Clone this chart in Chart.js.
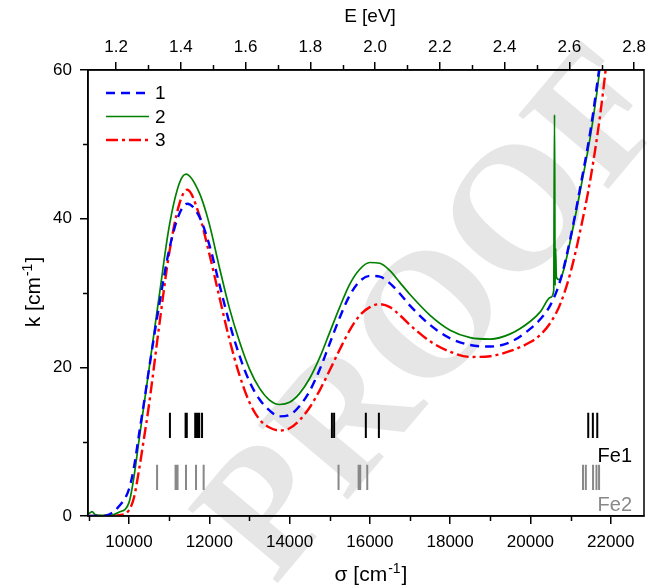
<!DOCTYPE html>
<html lang="en">
<head>
  <meta charset="UTF-8" />
  <title>k vs wavenumber</title>
  <script src="https://cdn.jsdelivr.net/npm/chart.js@4.4.1/dist/chart.umd.min.js"></script>
  <style>
    html, body { margin: 0; padding: 0; background: #fff; }
  </style>
</head>
<body>
  <canvas id="kChart" width="660" height="586"></canvas>

  <script>
    // wavenumber grid (cm-1) shared by curves 1 and 3
    const sigma = [9000, 9250, 9500, 9750, 10000, 10125, 10250, 10375, 10500, 10750, 11000, 11250, 11450,
      11750, 12000, 12250, 12500, 12750, 13000, 13250, 13500, 13750, 14000, 14250, 14500, 14750, 15000,
      15250, 15500, 15750, 16000, 16250, 16500, 16750, 17000, 17500, 18000, 18500, 19000, 19500, 20000,
      20250, 20500, 20750, 21000, 21250, 21500, 21750, 22000];
    const k1 = [0.0, 0.0, 0.2, 1.3, 3.6, 6.6, 11.0, 15.3, 19.8, 28.3, 35.8, 40.6, 42.0,
      40.3, 36.5, 31.2, 26.0, 21.6, 18.1, 15.7, 14.2, 13.4, 13.6, 14.8, 16.8, 19.7, 23.2,
      26.7, 29.7, 31.6, 32.3, 32.2, 31.3, 29.9, 28.3, 25.7, 23.9, 23.0, 22.8, 23.4, 25.2,
      26.5, 28.4, 31.8, 37.5, 44.5, 52.0, 61.5, 70.0];
    const k3 = [0.0, 0.0, 0.0, 0.1, 0.8, 2.5, 6.2, 10.5, 15.0, 25.5, 35.3, 41.9, 43.9,
      40.5, 35.3, 29.5, 23.8, 19.0, 15.3, 13.0, 11.9, 11.5, 11.8, 12.9, 14.6, 16.9, 19.6,
      22.4, 25.0, 27.0, 28.1, 28.5, 28.1, 27.0, 25.7, 23.5, 22.1, 21.4, 21.5, 22.2, 23.4,
      24.4, 26.0, 28.6, 32.8, 38.6, 45.5, 54.5, 66.0];
    // curve 2 has a narrow spike near 20600 cm-1, so it keeps its own grid
    const sigma2 = [9000, 9080, 9150, 9250, 9500, 9750, 10000, 10125, 10250, 10375, 10500, 10750, 11000,
      11250, 11420, 11750, 12000, 12250, 12500, 12750, 13000, 13250, 13500, 13750, 14000, 14250, 14500,
      14750, 15000, 15250, 15500, 15750, 16000, 16250, 16500, 16750, 17000, 17500, 18000, 18500, 19000,
      19500, 20000, 20250, 20500, 20580, 20600, 20615, 20628, 20645, 20710, 20800, 21000, 21250, 21500,
      21650, 21750, 22000];
    const k2 = [0.3, 0.6, 0.2, 0.1, 0.1, 0.5, 1.8, 5.3, 10.2, 15.0, 19.8, 29.5, 38.9,
      44.7, 46.0, 43.5, 39.3, 33.5, 28.0, 23.5, 19.8, 17.2, 15.6, 15.0, 15.3, 16.5, 18.5,
      21.3, 24.7, 28.1, 31.2, 33.2, 34.1, 34.0, 33.0, 31.4, 29.8, 27.0, 25.0, 24.0, 23.8,
      24.5, 26.2, 27.5, 29.4, 30.3, 54.0, 31.0, 36.0, 32.2, 31.8, 32.6, 37.2, 44.0, 51.3,
      56.8, 61.0, 70.0];

    // line positions of the two Fe sites (cm-1)
    const fe1Lines = [11020, 11410, 11440, 11650, 11700, 11750, 11820, 15055, 15110, 15900, 16225,
      21440, 21555, 21665];
    const fe2Lines = [10700, 11160, 11210, 11420, 11670, 11860, 15220, 15720, 15760, 15935,
      21310, 21380, 21560, 21645, 21710];
    const fe1Range = [10.5, 13.9];
    const fe2Range = [3.5, 6.9];

    // axis ticks
    const sigmaTicks = [10000, 12000, 14000, 16000, 18000, 20000, 22000];
    const sigmaMinor = [9000, 11000, 13000, 15000, 17000, 19000, 21000];
    const eTicks = [1.2, 1.4, 1.6, 1.8, 2.0, 2.2, 2.4, 2.6, 2.8];
    const eMinor = [1.3, 1.5, 1.7, 1.9, 2.1, 2.3, 2.5, 2.7];
    const kTicks = [0, 20, 40, 60];
    const kMinor = [10, 30, 50];

    const SIGMA_MIN = 8979, SIGMA_MAX = 22829;
    const EV_PER_CM = 1 / 8065.54;

    const FONT = '"Liberation Sans", Arial, sans-serif';

    function pts(xs, ys) { return xs.map((x, i) => ({ x: x, y: ys[i] })); }
    function marks(xs, r) {
      const out = [];
      xs.forEach(s => { out.push({ x: s, y: r[0] }, { x: s, y: r[1] }, { x: s, y: null }); });
      return out;
    }

    // draws "head" + superscript + "tail", centred on x
    function supText(ctx, x, y, head, sup, tail, size) {
      const small = Math.round(size * 0.65);
      ctx.font = size + 'px ' + FONT;
      const w1 = ctx.measureText(head).width;
      const w3 = ctx.measureText(tail).width;
      ctx.font = small + 'px ' + FONT;
      const w2 = ctx.measureText(sup).width;
      let cx = x - (w1 + w2 + w3) / 2;
      ctx.textAlign = 'left';
      ctx.textBaseline = 'alphabetic';
      ctx.font = size + 'px ' + FONT;
      ctx.fillText(head, cx, y); cx += w1;
      ctx.font = small + 'px ' + FONT;
      ctx.fillText(sup, cx + 1, y - size * 0.4); cx += w2 + 2;
      ctx.font = size + 'px ' + FONT;
      ctx.fillText(tail, cx, y);
    }

    const decor = {
      id: 'decor',
      beforeDraw(chart) {
        const ctx = chart.ctx;
        ctx.save();
        ctx.fillStyle = '#fff';
        ctx.fillRect(0, 0, chart.width, chart.height);
        // PROOF watermark
        ctx.translate(440, 318);
        ctx.rotate(-50 * Math.PI / 180);
        ctx.font = 'bold 178px "Liberation Serif", serif';
        ctx.fillStyle = '#e6e6e6';
        ctx.textAlign = 'center';
        ctx.textBaseline = 'middle';
        ctx.fillText('PROOF', 0, 0);
        ctx.restore();
      },
      afterDraw(chart) {
        const ctx = chart.ctx;
        const a = chart.chartArea;
        const sx = chart.scales.x, sy = chart.scales.y, se = chart.scales.x2;
        ctx.save();
        ctx.strokeStyle = '#000';
        ctx.lineWidth = 1.5;
        ctx.strokeRect(a.left, a.top, a.right - a.left, a.bottom - a.top);

        // minor ticks
        ctx.beginPath();
        sigmaMinor.forEach(v => {
          const p = Math.round(sx.getPixelForValue(v)) + 0.5;
          ctx.moveTo(p, a.bottom); ctx.lineTo(p, a.bottom + 5);
        });
        eMinor.forEach(v => {
          const p = Math.round(se.getPixelForValue(v)) + 0.5;
          ctx.moveTo(p, a.top); ctx.lineTo(p, a.top - 5);
        });
        kMinor.forEach(v => {
          const p = Math.round(sy.getPixelForValue(v)) + 0.5;
          ctx.moveTo(a.left, p); ctx.lineTo(a.left - 5, p);
        });
        ctx.stroke();

        // legend
        ctx.font = '19px ' + FONT;
        for (let i = 0; i < 3; i++) {
          const ds = chart.data.datasets[i];
          const y = 93 + i * 23.5;
          ctx.strokeStyle = ds.borderColor;
          ctx.lineWidth = ds.borderWidth;
          ctx.setLineDash(ds.borderDash || []);
          ctx.beginPath();
          ctx.moveTo(106, y); ctx.lineTo(149, y);
          ctx.stroke();
          ctx.setLineDash([]);
          ctx.fillStyle = '#000';
          ctx.textAlign = 'left';
          ctx.textBaseline = 'middle';
          ctx.fillText(ds.label, 155, y + 1);
        }

        // Fe labels
        ctx.font = '20px ' + FONT;
        ctx.textAlign = 'right';
        ctx.textBaseline = 'alphabetic';
        ctx.fillStyle = '#000';
        ctx.fillText('Fe1', 632, 462);
        ctx.fillStyle = '#888';
        ctx.fillText('Fe2', 632, 511);

        // axis titles
        ctx.fillStyle = '#000';
        const mid = (a.left + a.right) / 2;
        ctx.font = '19px ' + FONT;
        ctx.textAlign = 'center';
        ctx.textBaseline = 'alphabetic';
        ctx.fillText('E [eV]', mid + 4, 22);
        supText(ctx, mid + 4, 581, '\u03c3 [cm', '-1', ']', 21);
        ctx.translate(40, (a.top + a.bottom) / 2);
        ctx.rotate(-Math.PI / 2);
        supText(ctx, 0, 0, 'k [cm', '-1', ']', 21);
        ctx.restore();
      }
    };

    const tickFont = { family: FONT, size: 17 };

    new Chart(document.getElementById('kChart'), {
      type: 'line',
      data: {
        datasets: [
          { label: '1', data: pts(sigma, k1), borderColor: '#0000ff', borderWidth: 2.4,
            borderDash: [9, 6], cubicInterpolationMode: 'monotone' },
          { label: '2', data: pts(sigma2, k2), borderColor: '#008000', borderWidth: 1.7,
            cubicInterpolationMode: 'monotone' },
          { label: '3', data: pts(sigma, k3), borderColor: '#ff0000', borderWidth: 2.4,
            borderDash: [12, 4, 3, 4], cubicInterpolationMode: 'monotone' },
          { label: 'Fe1', data: marks(fe1Lines, fe1Range), borderColor: '#000', borderWidth: 2,
            spanGaps: false, borderCapStyle: 'butt' },
          { label: 'Fe2', data: marks(fe2Lines, fe2Range), borderColor: '#888', borderWidth: 2,
            spanGaps: false, borderCapStyle: 'butt' }
        ]
      },
      options: {
        responsive: false,
        devicePixelRatio: 1,
        animation: false,
        events: [],
        layout: { padding: { left: 0, right: 16, top: 0, bottom: 0 } },
        elements: { point: { radius: 0 }, line: { tension: 0 } },
        plugins: { legend: { display: false }, tooltip: { enabled: false } },
        scales: {
          x: {
            type: 'linear', position: 'bottom', min: SIGMA_MIN, max: SIGMA_MAX,
            grid: { drawOnChartArea: false, color: '#000', tickLength: 8, lineWidth: 1.5 },
            border: { color: '#000', width: 1.5 },
            ticks: { color: '#000', font: tickFont, padding: 8, maxRotation: 0,
              callback: v => String(v) },
            afterBuildTicks: s => { s.ticks = sigmaTicks.map(v => ({ value: v })); },
            afterFit: s => { s.height = 70; }
          },
          x2: {
            type: 'linear', position: 'top',
            min: SIGMA_MIN * EV_PER_CM, max: SIGMA_MAX * EV_PER_CM,
            grid: { drawOnChartArea: false, color: '#000', tickLength: 8, lineWidth: 1.5 },
            border: { color: '#000', width: 1.5 },
            ticks: { color: '#000', font: tickFont, padding: 4, maxRotation: 0,
              callback: v => v.toFixed(1) },
            afterBuildTicks: s => { s.ticks = eTicks.map(v => ({ value: v })); },
            afterFit: s => { s.height = 70; }
          },
          y: {
            type: 'linear', min: 0, max: 60,
            grid: { drawOnChartArea: false, color: '#000', tickLength: 8, lineWidth: 1.5 },
            border: { color: '#000', width: 1.5 },
            ticks: { color: '#000', font: tickFont, padding: 8 },
            afterBuildTicks: s => { s.ticks = kTicks.map(v => ({ value: v })); },
            afterFit: s => { s.width = 88; }
          }
        }
      },
      plugins: [decor]
    });
  </script>
</body>
</html>
